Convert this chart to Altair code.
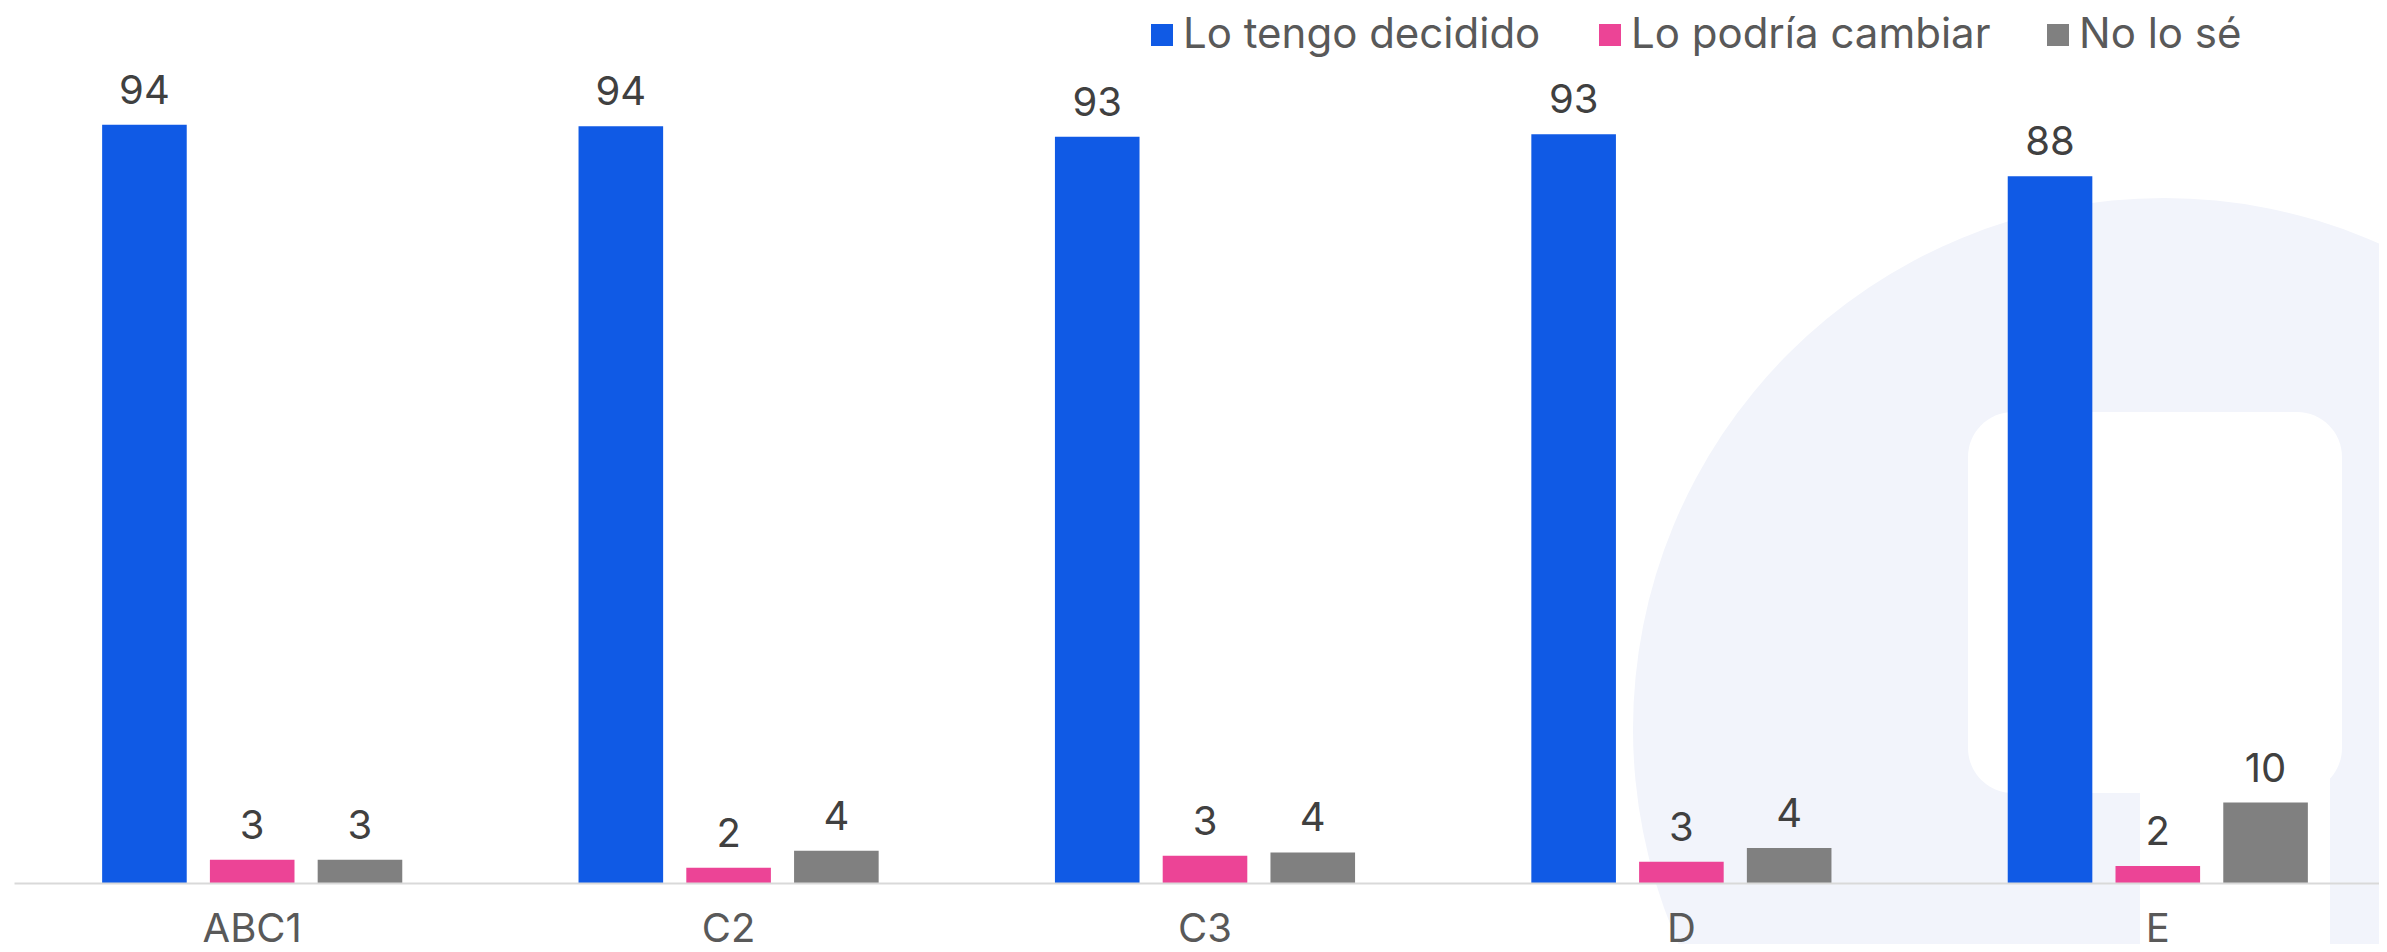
import altair as alt
import pandas as pd

categories = ["ABC1", "C2", "C3", "D", "E"]
series = ["Lo tengo decidido", "Lo podría cambiar", "No lo sé"]
decidido = [94.2, 94.0, 92.7, 93.0, 87.8]
cambiar = [2.9, 1.9, 3.4, 2.65, 2.1]
no_se = [2.9, 4.0, 3.8, 4.35, 10.0]
colors = ["#105AE5", "#EC4496", "#808080"]

rows = []
for s, vals in zip(series, [decidido, cambiar, no_se]):
    for c, v in zip(categories, vals):
        rows.append({"cat": c, "series": s, "value": v})
df = pd.DataFrame(rows)

FONT = "Inter"

x_enc = alt.X(
    "cat:N",
    sort=categories,
    scale=alt.Scale(paddingInner=0.37, paddingOuter=0.185, range=[0, 2382]),
    axis=alt.Axis(
        title=None, labelFontSize=40, labelColor="#595959", labelFont=FONT,
        ticks=False, domainColor="#d9d9d9", domainWidth=2,
        labelBaseline="alphabetic", labelPadding=58, labelAngle=0, zindex=1,
    ),
)
xo_enc = alt.XOffset("series:N", sort=series, scale=alt.Scale(paddingInner=0.215, paddingOuter=0))
y_enc = alt.Y("value:Q", scale=alt.Scale(domain=[0, 100], nice=False), axis=None)

base = alt.Chart(df)

bars = base.mark_bar().encode(
    x=x_enc,
    xOffset=xo_enc,
    y=y_enc,
    color=alt.Color(
        "series:N",
        sort=series,
        scale=alt.Scale(domain=series, range=colors),
        legend=alt.Legend(
            title=None, orient="none", legendX=1127, legendY=-64,
            direction="horizontal", columns=3, gridAlign="all",
            symbolType="square", symbolSize=484, symbolStrokeWidth=0,
            labelFontSize=42, labelColor="#595959", labelFont=FONT,
            labelOffset=0, columnPadding=46, labelLimit=600,
        ),
    ),
)

labels = base.mark_text(
    baseline="alphabetic", dy=-21, fontSize=40, color="#404040", font=FONT
).encode(
    x=x_enc,
    xOffset=xo_enc,
    y=y_enc,
    text=alt.Text("value:Q", format=".0f"),
)

one = pd.DataFrame({"k": [0]})
circle = alt.Chart(one).mark_point(
    shape="circle", filled=True, size=1127844, color="#f2f4fb", opacity=1
).encode(x=alt.value(2150), y=alt.value(651))
rect1 = alt.Chart(one).mark_rect(cornerRadius=45, color="white").encode(
    x=alt.value(1954), x2=alt.value(2328), y=alt.value(334), y2=alt.value(715)
)
rect2 = alt.Chart(one).mark_rect(color="white").encode(
    x=alt.value(2126), x2=alt.value(2316), y=alt.value(700), y2=alt.value(900)
)

chart = alt.layer(circle, rect1, rect2, bars, labels).properties(
    width=2365,
    height=805,
    padding={"left": 6, "top": 70, "right": 0, "bottom": 61},
    autosize=alt.AutoSizeParams(type="none"),
    background="white",
).configure_view(stroke=None)

chart.save("out.html", embed_options={"renderer": "svg", "actions": False})
